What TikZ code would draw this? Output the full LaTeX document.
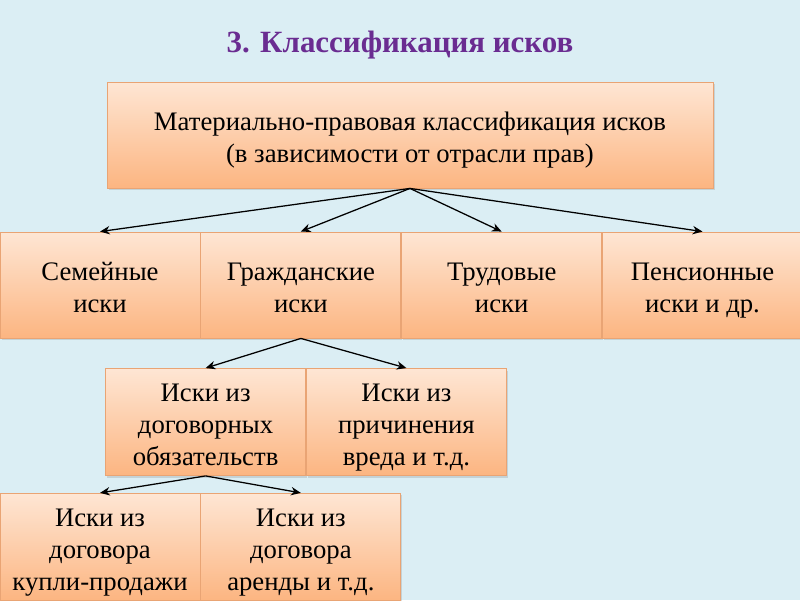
\documentclass[tikz,border=0pt]{standalone}
\usepackage{fontspec}
\setmainfont{Liberation Serif}
\usetikzlibrary{arrows.meta,shadows,positioning}
\definecolor{slidebg}{HTML}{DBEEF4}
\definecolor{peachtop}{HTML}{FEE6D4}
\definecolor{peachbot}{HTML}{FCB581}
\definecolor{peachline}{HTML}{E9A474}
\definecolor{titlepurple}{HTML}{6A2C91}
\newcommand{\kltop}{\rule{0pt}{\dimexpr0.7\baselineskip+7pt\relax}}
\newcommand{\klbot}{\rule[-0.3\baselineskip]{0pt}{1pt}}

\begin{document}
\begin{tikzpicture}[
  klass/.style={rectangle, draw=peachline, line width=0.6pt, top color=peachtop, bottom color=peachbot,
    minimum width=5cm, minimum height=2.65cm, inner sep=0pt, align=center,
    font=\fontsize{19}{22.8}\selectfont,
    drop shadow={opacity=0.25, shadow xshift=0.04cm, shadow yshift=-0.05cm}},
  link/.style={-{Stealth[length=7pt,width=6pt]}, line width=0.9pt, black}
]
\useasboundingbox (0cm,0cm) rectangle (20cm,-15cm);
\fill [slidebg] (0cm,0cm) rectangle (20cm,-15cm);

\node (title) at (10cm,-1.12cm) [font=\fontsize{22}{26}\selectfont\bfseries, text=titlepurple] {3. Классификация исков};

% upper level
\node (material) at (10.25cm,-3.375cm) [klass, minimum width=15.15cm] {\kltop Материально-правовая классификация исков\\(в зависимости от отрасли прав)\klbot};

% branches of law
\node (family) at (2.5cm,-7.125cm) [klass] {\kltop Семейные\\иски\klbot};
\node (civil) [klass, right=0cm of family] {\kltop Гражданские\\иски\klbot};
\node (labour) [klass, right=0cm of civil] {\kltop Трудовые\\иски\klbot};
\node (pension) [klass, right=0cm of labour] {\kltop Пенсионные\\иски и др.\klbot};

% civil claims
\node (contract) at (5.14cm,-10.55cm) [klass, minimum height=2.675cm] {\kltop Иски из\\договорных\\обязательств\klbot};
\node (harm) [klass, minimum height=2.675cm, right=0cm of contract] {\kltop Иски из\\причинения\\вреда и т.д.\klbot};

% contract claims
\node (sale) at (2.5cm,-13.67cm) [klass, minimum height=2.675cm] {\kltop Иски из\\договора\\купли-продажи\klbot};
\node (lease) [klass, minimum height=2.675cm, right=0cm of sale] {\kltop Иски из\\договора\\аренды и т.д.\klbot};

\foreach \target in {family,civil,labour,pension}
  \draw [link] (material.south) -- (\target.north);
\draw [link] (civil.south) -- (contract.north);
\draw [link] (civil.south) -- (harm.north);
\draw [link] (contract.south) -- (sale.north);
\draw [link] (contract.south) -- (lease.north);
\end{tikzpicture}
\end{document}
